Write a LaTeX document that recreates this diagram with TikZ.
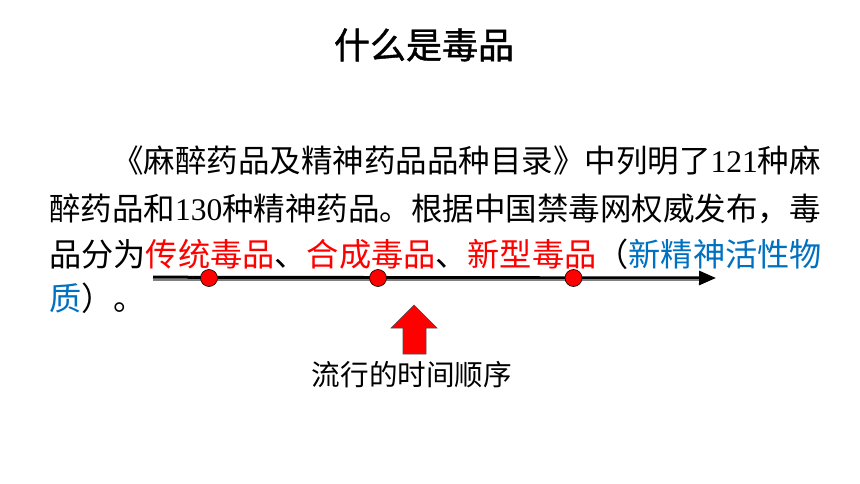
\documentclass[tikz,border=0pt]{standalone}
\usepackage{fontspec}
\setmainfont{Noto Sans CJK SC}
\newfontfamily\cjk{Noto Sans CJK SC}
\newfontfamily\cjktitle[FakeBold=1.2]{Noto Sans CJK SC}
\newfontfamily\dig{Liberation Serif}
\usetikzlibrary{arrows.meta}
\definecolor{dred}{RGB}{255,0,0}
\definecolor{dblue}{RGB}{0,112,192}
\definecolor{tlgray}{RGB}{128,128,128}
\tikzset{
  bodytext/.style={anchor=base west, inner sep=0pt, font=\cjk\fontsize{31.5}{31.5}\selectfont},
  bodytextb/.style={anchor=base west, inner sep=0pt, font=\cjk\fontsize{32.2}{32.2}\selectfont},
  dotnode/.style={circle, fill=dred, draw=black, line width=0.6pt, minimum size=17pt, inner sep=0pt},
  titletext/.style={anchor=base, inner sep=0pt, font=\cjktitle\fontsize{36}{36}\selectfont},
  labeltext/.style={anchor=base, inner sep=0pt, font=\cjk\fontsize{28.6}{28.6}\selectfont}
}
\begin{document}
\begin{tikzpicture}[x=1pt,y=-1pt]
\useasboundingbox (0,0) rectangle (860,484);
\node[titletext] (title) at (424,58.5) {什么是毒品};
\node[bodytext] (l1) at (112,172) {《麻醉药品及精神药品品种目录》中列明了{\dig 121}种麻};
\node[bodytext] (l2) at (49,220) {醉药品和{\dig 130}种精神药品。根据中国禁毒网权威发布，毒};
\node[bodytextb] (l3) at (49,266) {品分为\textcolor{dred}{传统毒品}、\textcolor{dred}{合成毒品}、\textcolor{dred}{新型毒品}（\textcolor{dblue}{新精神活性物}};
\node[bodytextb] (l4) at (49,310) {\textcolor{dblue}{质}）。};
% timeline
\coordinate (tlstart) at (153,278);
\coordinate (tlend) at (716,278);
\draw[line width=3pt, -{Triangle[length=17pt,width=14pt]}] ([yshift=0.8pt]tlstart) -- ([yshift=0pt]tlend);
\draw[tlgray, line width=1.6pt] ([yshift=-1.8pt]tlstart) -- ([xshift=-17pt,yshift=-1.8pt]tlend);
\node[dotnode] (d1) at (209,278) {};
\node[dotnode] (d2) at (378,278) {};
\node[dotnode] (d3) at (573.5,278) {};
% block arrow
\filldraw[fill=dred, draw=black!70, line width=0.6pt]
  (414,305) -- (437,328) -- (426,328) -- (426,354) -- (403,354) -- (403,328) -- (391,328) -- cycle;
\node[labeltext] (lab) at (412,385) {流行的时间顺序};
\end{tikzpicture}
\end{document}
